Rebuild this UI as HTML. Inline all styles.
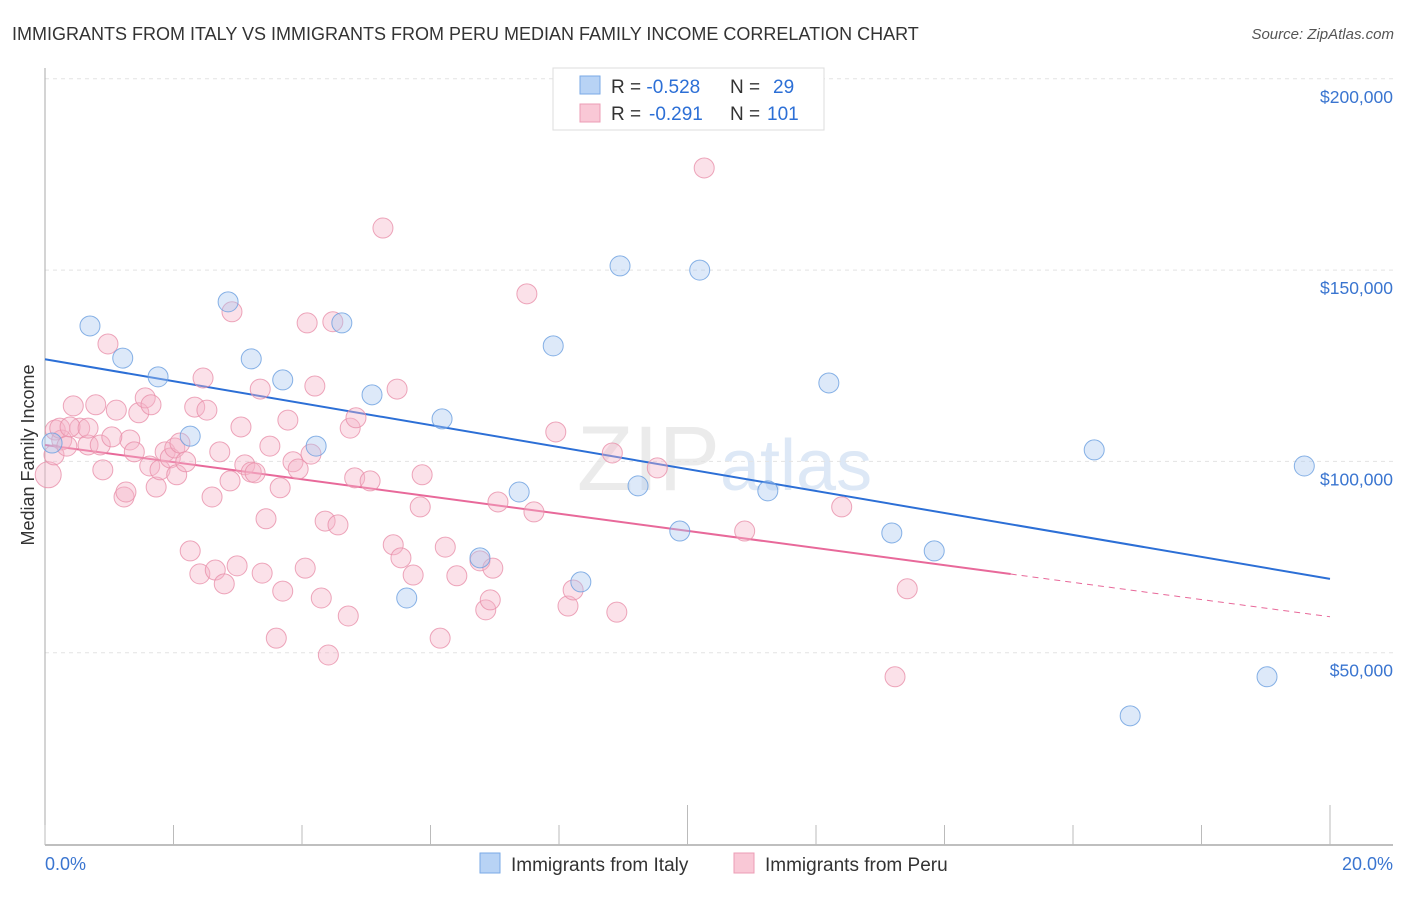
<!DOCTYPE html>
<html><head><meta charset="utf-8"><style>
body{margin:0;background:#fff;font-family:"Liberation Sans",sans-serif}
svg text{font-family:"Liberation Sans",sans-serif}
</style></head><body>
<svg width="1406" height="892" xmlns="http://www.w3.org/2000/svg">
<text x="12" y="40" font-size="18" fill="#333">IMMIGRANTS FROM ITALY VS IMMIGRANTS FROM PERU MEDIAN FAMILY INCOME CORRELATION CHART</text>
<text x="1394" y="39" font-size="15" fill="#555" font-style="italic" text-anchor="end">Source: ZipAtlas.com</text>
<text x="720" y="490" font-size="92" fill="#ebebeb" text-anchor="end" font-family="Liberation Serif">ZIP</text>
<text x="720" y="490" font-size="72" fill="#dde8f6">atlas</text>
<g id="grid"></g><g id="axes"></g><g id="trends"></g><g id="pts"></g>
<text transform="translate(34,455) rotate(-90)" font-size="18" fill="#333" text-anchor="middle">Median Family Income</text>
<text x="45" y="870" font-size="18" fill="#3a75d0">0.0%</text>
<text x="1393" y="870" font-size="18" fill="#3a75d0" text-anchor="end">20.0%</text>
<g>
<rect x="553" y="68" width="271" height="62" fill="#fff" stroke="#ddd"/>
<rect x="580" y="76" width="20" height="18" fill="#b8d3f5" stroke="#7aa9e6"/>
<rect x="580" y="104" width="20" height="18" fill="#f9c8d6" stroke="#ec9db5"/>
<text x="611" y="93" font-size="19" fill="#333">R = <tspan fill="#2c6fd6">-0.528</tspan><tspan x="730">N = </tspan><tspan x="773" fill="#2c6fd6">29</tspan></text>
<text x="611" y="120" font-size="19" fill="#333">R = <tspan x="649" fill="#2c6fd6">-0.291</tspan><tspan x="730">N = </tspan><tspan x="767" fill="#2c6fd6">101</tspan></text>
</g>
<g>
<rect x="480" y="853" width="20" height="20" fill="#b8d3f5" stroke="#7aa9e6"/>
<text x="511" y="871" font-size="19" fill="#333">Immigrants from Italy</text>
<rect x="734" y="853" width="20" height="20" fill="#f9c8d6" stroke="#ec9db5"/>
<text x="765" y="871" font-size="19" fill="#333">Immigrants from Peru</text>
</g>
</svg>
<script>
const yTicks=[50000,100000,150000,200000];
const yTickLabels=["$50,000","$100,000","$150,000","$200,000"];
const xTicks=[0,2,4,6,8,10,12,14,16,18,20];
const italyX=[0.70,1.21,1.76,2.26,2.85,3.21,3.70,4.22,4.62,5.09,5.63,6.18,7.38,7.91,8.34,8.95,9.23,9.88,10.19,11.25,12.20,13.18,13.84,16.33,16.89,19.02,19.60,0.11,6.77];
const italyY=[135.4,127.0,122.1,106.6,141.7,126.8,121.3,104.0,136.2,117.4,64.3,111.1,92.0,130.2,68.5,151.1,93.6,81.8,150.0,92.3,120.5,81.3,76.6,103.0,33.5,43.7,98.8,104.8,74.8];
const peruX=[0.05,0.16,0.26,0.44,0.54,0.67,0.79,0.90,0.98,1.11,1.23,1.26,1.32,1.39,1.46,1.56,1.63,1.73,1.79,1.87,1.95,2.02,2.05,2.10,2.19,2.26,2.33,2.41,2.46,2.52,2.60,2.65,2.72,2.79,2.88,2.91,2.99,3.05,3.11,3.21,3.27,3.35,3.38,3.44,3.50,3.60,3.66,3.70,3.78,3.86,3.94,4.05,4.08,4.14,4.20,4.30,4.36,4.41,4.48,4.56,4.72,4.75,4.84,4.82,5.06,5.26,5.42,5.48,5.54,5.73,5.84,5.87,6.15,6.23,6.41,6.77,6.86,6.93,6.97,7.05,7.50,7.61,7.95,8.14,8.22,8.83,8.90,9.53,10.26,10.89,12.40,13.23,13.42,0.14,0.23,0.34,0.39,0.86,1.04,0.67,1.65];
const peruY=[96.5,108.2,105.6,114.5,108.7,104.3,114.8,97.8,130.7,113.4,90.7,92.0,105.6,102.5,112.7,116.6,98.8,93.3,97.8,102.5,100.9,103.5,96.5,104.8,99.9,76.6,114.2,70.6,121.8,113.4,90.7,71.6,102.5,68.0,94.9,139.1,72.7,109.0,99.1,97.2,97.0,118.9,70.8,85.0,104.0,53.8,93.1,66.1,110.8,99.9,98.0,72.1,136.2,101.9,119.7,64.3,84.4,49.4,136.5,83.4,59.6,108.7,111.4,95.7,94.9,161.0,78.2,118.9,74.8,70.3,88.1,96.5,53.8,77.6,70.1,74.0,61.2,63.8,72.1,89.4,143.8,86.8,107.7,62.2,66.4,102.2,60.6,98.3,176.7,81.8,88.1,43.7,66.7,101.7,108.7,104.0,109.0,104.3,106.4,108.7,114.8];
const italyTrend=[126.7,69.3];
const peruTrend=[104.3,59.4];
const peruSolidEnd=15.03;
const NS="http://www.w3.org/2000/svg";
const sx=p=>45+p*64.25;
const sy=v=>844-v/50000*191.3;
function mk(tag,at,parent){const e=document.createElementNS(NS,tag);for(const k in at)e.setAttribute(k,at[k]);document.getElementById(parent).appendChild(e);return e;}
yTicks.forEach((t,i)=>{
 const l=mk('line',{x1:45,x2:1393,y1:sy(t),y2:sy(t),stroke:'#e3e3e3','stroke-dasharray':'4,4'},'grid');
 
 
 const tx=mk('text',{x:1393,y:sy(t)+24,'font-size':17.5,fill:'#3a75d0','text-anchor':'end'},'grid');
 tx.textContent=yTickLabels[i];
 
 
});
const ya=mk('line',{x1:45,x2:45,y1:68,y2:845,stroke:'#aaa'},'axes');


const xa=mk('line',{x1:45,x2:1393,y1:845,y2:845,stroke:'#aaa','stroke-width':1.5},'axes');


xTicks.forEach(t=>{
 const tall=(t===10||t===20);
 const l=mk('line',{x1:sx(t),x2:sx(t),y1:tall?805:825,y2:845,stroke:'#bbb'},'axes');
 
 
});
function pts(X,Y,fill,stroke,name){
 X.forEach((x,i)=>{
  const r=(i===0&&name==='peru-point')?13:10;
  const c=mk('circle',{cx:sx(x),cy:sy(Y[i]*1000),r:r,fill:fill,'fill-opacity':0.4,stroke:stroke,'stroke-opacity':0.8,'stroke-width':1},'pts');
  
  
 });
}
pts(peruX,peruY,'#f5b5c8','#e890aa','peru-point');
pts(italyX,italyY,'#a9c8f0','#6a9fe0','italy-point');
const it=mk('line',{x1:sx(0),y1:sy(italyTrend[0]*1000),x2:sx(20),y2:sy(italyTrend[1]*1000),stroke:'#2c6fd6','stroke-width':2},'trends');


const pv=p=>peruTrend[0]+(peruTrend[1]-peruTrend[0])*p/20;
const pt=mk('line',{x1:sx(0),y1:sy(pv(0)*1000),x2:sx(peruSolidEnd),y2:sy(pv(peruSolidEnd)*1000),stroke:'#e8699a','stroke-width':2},'trends');


const pd=mk('line',{x1:sx(peruSolidEnd),y1:sy(pv(peruSolidEnd)*1000),x2:sx(20),y2:sy(pv(20)*1000),stroke:'#e8699a','stroke-width':1,'stroke-dasharray':'6,5'},'trends');


</script>
</body></html>
